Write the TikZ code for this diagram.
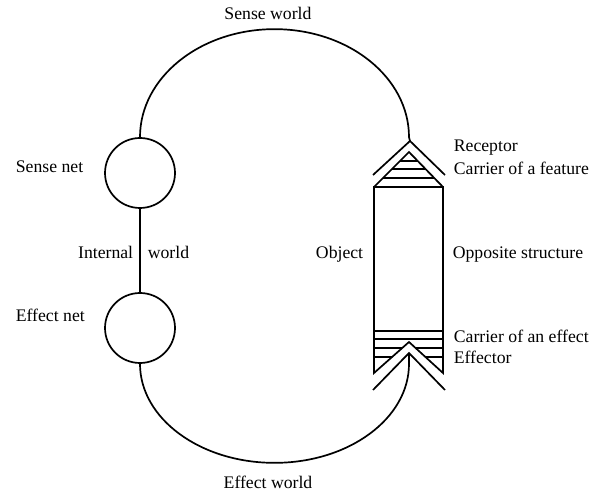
\documentclass[tikz,border=0pt]{standalone}
\usepackage{fontspec}
\setmainfont{Liberation Serif}
\begin{document}
\begin{tikzpicture}[x=0.5pt,y=0.5pt, line width=0.85pt,
  lbl/.style={font=\fontsize{8.85}{10}\selectfont, inner sep=0pt, text height=0.68em, text depth=0.2em},
  netcircle/.style={circle, draw, minimum size=35pt, inner sep=0pt}]
\useasboundingbox (0,0) rectangle (590,499);
% nets
\node[netcircle] (sn) at (140,326) {};
\node[netcircle] (en) at (140,171) {};
\draw (sn.south) -- (en.north);
% apexes of receptor and effector
\coordinate (rapex) at (410,358);
\coordinate (eapex) at (409,146);
% worlds
\draw (sn.north) arc[start angle=180, end angle=0, x radius=134.5, y radius=108] -- (rapex);
\draw (en.south) arc[start angle=180, end angle=360, x radius=134.5, y radius=99] -- (eapex);
% object
\draw (374,312) -- (374,126) -- (409,157) -- (443,126) -- (443,312) -- cycle;
\draw (374,312) -- (409,347) -- (443,312);
\begin{scope}
  \clip (374,312) -- (409,347) -- (443,312) -- cycle;
  \foreach \yy in {321,330,338} \draw (370,\yy) -- (450,\yy);
\end{scope}
\begin{scope}
  \clip (374,312) -- (374,126) -- (409,157) -- (443,126) -- (443,312) -- cycle;
  \foreach \yy in {142,151,160,168} \draw (370,\yy) -- (450,\yy);
\end{scope}
% receptor and effector
\draw (373,324) -- (rapex) -- (445,324);
\draw (373,109) -- (eapex) -- (445,109);
% labels
\node[lbl] (swl) at (268,484) {Sense world};
\node[lbl] (ewl) at (268,15) {Effect world};
\node[lbl, anchor=west] (snl) at (15,331) {Sense net};
\node[lbl, anchor=west] (enl) at (15,182) {Effect net};
\node[lbl, anchor=east] (iwl) at (134,245) {Internal};
\node[lbl, anchor=west] (iwr) at (147,245) {world};
\node[lbl, anchor=east] (obl) at (364,245) {Object};
\node[lbl, anchor=west] (osl) at (452,245) {Opposite structure};
\node[lbl, anchor=west] (rcl) at (453,352) {Receptor};
\node[lbl, anchor=west] (cfl) at (453,329) {Carrier of a feature};
\node[lbl, anchor=west] (cel) at (453,161) {Carrier of an effect};
\node[lbl, anchor=west] (efl) at (453,140) {Effector};
\end{tikzpicture}
\end{document}
